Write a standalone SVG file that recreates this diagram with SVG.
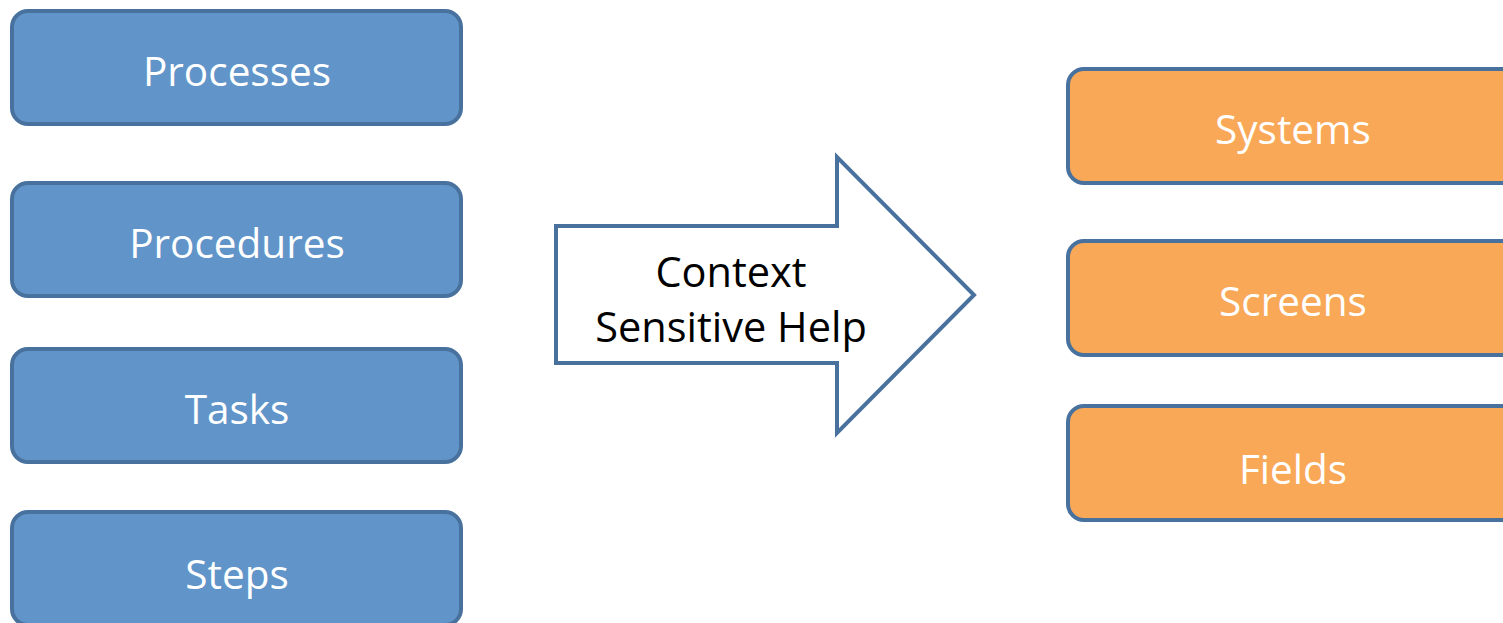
<svg xmlns="http://www.w3.org/2000/svg" width="1503" height="623" viewBox="0 0 1503 623">
<style>
.blue{fill:#6195c9;stroke:#48719e;stroke-width:4}
.orange{fill:#f9a857;stroke:#48719e;stroke-width:4}
.lbl{font-family:"Open Sans","Liberation Sans",sans-serif;font-size:40.5px;fill:#ffffff;text-anchor:middle}
.arrowtxt{font-family:"Open Sans","Liberation Sans",sans-serif;font-size:41.5px;fill:#000000;text-anchor:middle}
</style>
<rect width="1503" height="623" fill="#ffffff"/>
<g id="processes"><rect class="blue" x="12" y="11" width="449" height="113" rx="16"/><text class="lbl" x="237" y="86">Processes</text></g>
<g id="procedures"><rect class="blue" x="12" y="183" width="449" height="113" rx="16"/><text class="lbl" x="237" y="258">Procedures</text></g>
<g id="tasks"><rect class="blue" x="12" y="349" width="449" height="113" rx="16"/><text class="lbl" x="237" y="424">Tasks</text></g>
<g id="steps"><rect class="blue" x="12" y="512" width="449" height="113" rx="16"/><text class="lbl" x="237" y="589">Steps</text></g>
<g id="systems"><rect class="orange" x="1068" y="69" width="460" height="114" rx="16"/><text class="lbl" x="1293" y="144">Systems</text></g>
<g id="screens"><rect class="orange" x="1068" y="241" width="460" height="114" rx="16"/><text class="lbl" x="1293" y="316">Screens</text></g>
<g id="fields"><rect class="orange" x="1068" y="406" width="460" height="114" rx="16"/><text class="lbl" x="1293" y="484">Fields</text></g>
<g id="connectors">
<g id="context-arrow"><path d="M556 226 L837 226 L837 157 L974 295 L837 433 L837 363 L556 363 Z" fill="#ffffff" stroke="#48719e" stroke-width="4" stroke-linejoin="miter"/>
<text class="arrowtxt" x="731" y="287">Context</text><text class="arrowtxt" x="731" y="342">Sensitive Help</text></g>
</g>
</svg>
